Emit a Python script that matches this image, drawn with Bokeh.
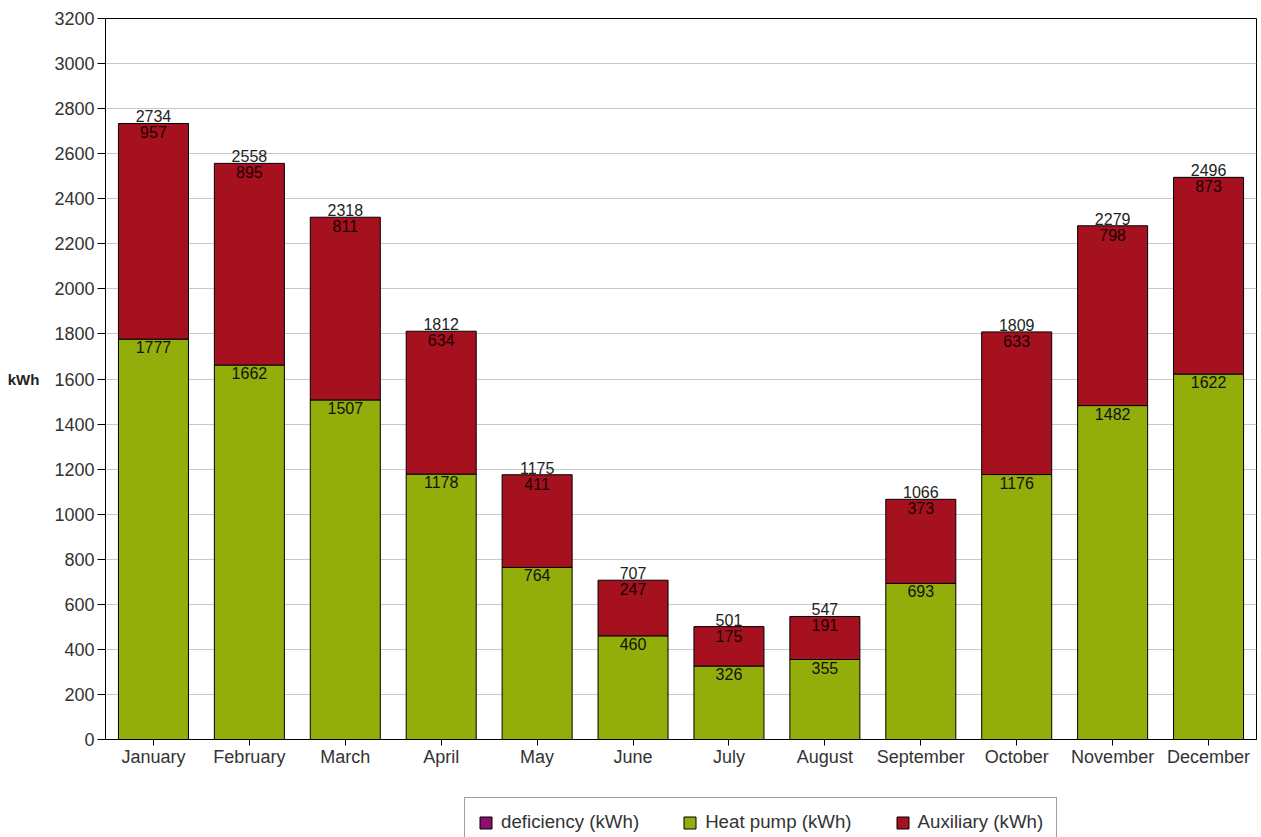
from bokeh.plotting import figure
from bokeh.layouts import column, row
from bokeh.models import (ColumnDataSource, FactorRange, Range1d, FixedTicker, Legend,
                          LegendItem, Spacer)
from bokeh.core.properties import value
from bokeh.embed import file_html
from bokeh.resources import INLINE

months = ["January", "February", "March", "April", "May", "June", "July",
          "August", "September", "October", "November", "December"]
heat_pump = [1777, 1662, 1507, 1178, 764, 460, 326, 355, 693, 1176, 1482, 1622]
auxiliary = [957, 895, 811, 634, 411, 247, 175, 191, 373, 633, 798, 873]
totals = [2734, 2558, 2318, 1812, 1175, 707, 501, 547, 1066, 1809, 2279, 2496]
deficiency = [0] * 12
y_ticks = list(range(0, 3201, 200))
legend_labels = ["deficiency (kWh)", "Heat pump (kWh)", "Auxiliary (kWh)"]

FONT = "Liberation Sans"
C_HP = "#93ad0b"
C_AUX = "#a5111f"
C_DEF = "#8b0f6f"

src = ColumnDataSource(dict(
    month=months, hp=heat_pump, aux=auxiliary, dfc=deficiency,
    stack_top=[h + a for h, a in zip(heat_pump, auxiliary)],
    total=totals,
    hp_lbl=[str(v) for v in heat_pump],
    aux_lbl=[str(v) for v in auxiliary],
    tot_lbl=[str(v) for v in totals],
))

p = figure(x_range=FactorRange(*months, range_padding=0),
           y_range=Range1d(0, 3200),
           width=1261, height=796, output_backend="svg", toolbar_location=None,
           min_border_left=105, min_border_right=5, min_border_top=18,
           min_border_bottom=57)
p.x_range.range_padding = 0

r_hp, r_aux = p.vbar_stack(["hp", "aux"], x="month", width=0.73, source=src,
                           color=[C_HP, C_AUX], line_color="black", line_width=1)

p.text(x="month", y="total", text="tot_lbl", source=src, text_align="center",
       text_baseline="bottom", y_offset=-1, text_font=value(FONT),
       text_font_size="16px", text_color="#222222")
p.text(x="month", y="stack_top", text="aux_lbl", source=src, text_align="center",
       text_baseline="top", y_offset=3, text_font=value(FONT),
       text_font_size="16px", text_color="#1a0000")
p.text(x="month", y="hp", text="hp_lbl", source=src, text_align="center",
       text_baseline="top", y_offset=2, text_font=value(FONT),
       text_font_size="16px", text_color="#111111")

p.outline_line_color = "black"
p.outline_line_alpha = 1
p.xgrid.visible = False
p.ygrid.grid_line_color = "#c8c8c8"
p.ygrid.ticker = FixedTicker(ticks=y_ticks)

p.yaxis.ticker = FixedTicker(ticks=y_ticks)
p.yaxis.axis_label = "kWh"
p.yaxis.axis_label_orientation = "horizontal"
p.yaxis.axis_label_text_font = FONT
p.yaxis.axis_label_text_font_style = "bold"
p.yaxis.axis_label_text_font_size = "15px"
p.yaxis.axis_label_text_color = "#222222"
p.yaxis.axis_label_standoff = 12
p.yaxis.major_tick_out = 8
p.yaxis.major_label_standoff = 3

for ax in (p.xaxis, p.yaxis):
    ax.axis_line_color = "black"
    ax.major_tick_line_color = "black"
    ax.minor_tick_line_color = None
    ax.major_tick_in = 0
    ax.major_label_text_font = FONT
    ax.major_label_text_font_size = "18px"
    ax.major_label_text_color = "#333333"
p.xaxis.major_tick_out = 6
p.xaxis.major_label_standoff = 1

# legend in its own small figure below the chart
lf = figure(width=640, height=41, output_backend="svg", toolbar_location=None,
            min_border=0, x_range=Range1d(0, 1), y_range=Range1d(0, 1))
lf.axis.visible = False
lf.grid.visible = False
lf.outline_line_color = None
off = dict(x=[-10], top=[-10], bottom=[-20], width=0.5, line_color="black")
d_def = lf.vbar(fill_color=C_DEF, **off)
d_hp = lf.vbar(fill_color=C_HP, **off)
d_aux = lf.vbar(fill_color=C_AUX, **off)

legend = Legend(items=[
    LegendItem(label=legend_labels[0], renderers=[d_def]),
    LegendItem(label=legend_labels[1], renderers=[d_hp]),
    LegendItem(label=legend_labels[2], renderers=[d_aux]),
], orientation="horizontal", location="top_left")
legend.label_text_font = FONT
legend.label_text_font_size = "18.7px"
legend.label_text_color = "#333333"
legend.glyph_width = 15
legend.glyph_height = 15
legend.label_standoff = 8
legend.spacing = 43
legend.padding = 13
legend.margin = 1
legend.border_line_color = "#444444"
legend.border_line_width = 1
legend.background_fill_alpha = 1
lf.add_layout(legend)

layout = column(p, row(Spacer(width=463, height=41), lf, spacing=0), spacing=0)

open("out.html", "w").write(file_html(layout, INLINE))
